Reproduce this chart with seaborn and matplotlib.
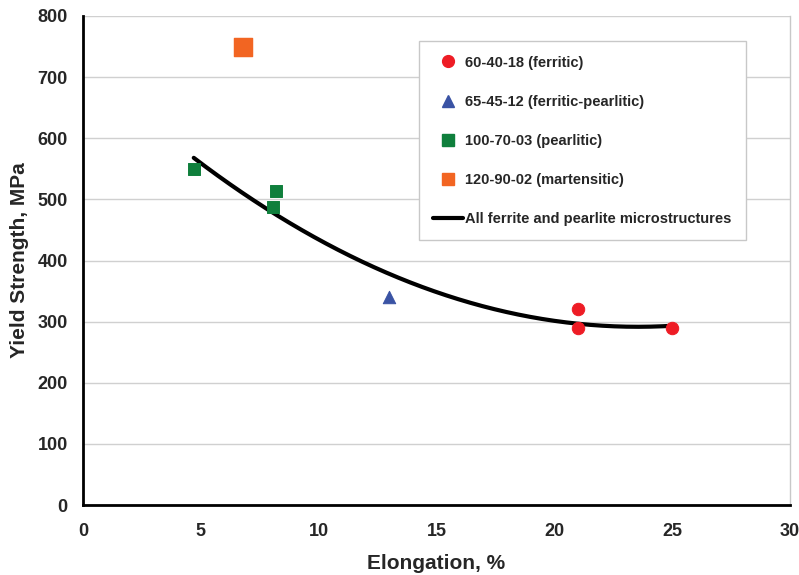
import numpy as np
import pandas as pd
import matplotlib
matplotlib.use("Agg")
import matplotlib.pyplot as plt
import seaborn as sns
from matplotlib.lines import Line2D

# Data
ferritic_x = [21, 21, 25]
ferritic_y = [320, 290, 290]
fp_x = [13]
fp_y = [340]
pearlitic_x = [4.7, 8.2, 8.05]
pearlitic_y = [550, 514, 488]
mart_x = [6.8]
mart_y = [750]
# trendline (2nd order polynomial) coefficients and range
trend_coef = [0.779, -36.67, 723.1]
trend_range = [4.7, 25]

labels = ["60-40-18 (ferritic)", "65-45-12 (ferritic-pearlitic)",
          "100-70-03 (pearlitic)", "120-90-02 (martensitic)",
          "All ferrite and pearlite microstructures"]
x_ticks = [0, 5, 10, 15, 20, 25, 30]
y_ticks = [0, 100, 200, 300, 400, 500, 600, 700, 800]

sns.set_style("white")
plt.rcParams['font.family'] = ['Liberation Sans', 'DejaVu Sans']
plt.rcParams['font.weight'] = 'bold'

fig = plt.figure(figsize=(7.99, 5.75), dpi=100)
ax = fig.add_axes([83/799, 70/575, 707/799, 489/575])

c_red = "#ee1c25"
c_blue = "#3a53a4"
c_green = "#0f7f3c"
c_orange = "#f26522"

tx = np.linspace(trend_range[0], trend_range[1], 200)
ty = np.polyval(trend_coef, tx)
trend_df = pd.DataFrame({"x": tx, "y": ty})
sns.lineplot(data=trend_df, x="x", y="y", ax=ax, color="black", lw=3, zorder=3)

sns.scatterplot(x=ferritic_x, y=ferritic_y, ax=ax, marker="o", s=80, color=c_red, edgecolor=c_red, zorder=4)
sns.scatterplot(x=fp_x, y=fp_y, ax=ax, marker="^", s=80, color=c_blue, edgecolor=c_blue, zorder=4)
sns.scatterplot(x=pearlitic_x, y=pearlitic_y, ax=ax, marker="s", s=75, color=c_green, edgecolor=c_green, zorder=4)
sns.scatterplot(x=mart_x, y=mart_y, ax=ax, marker="s", s=170, color=c_orange, edgecolor=c_orange, zorder=4)

ax.set_xlim(0, 30)
ax.set_ylim(0, 800)
ax.set_xticks(x_ticks)
ax.set_yticks(y_ticks)
ax.set_xticklabels([str(v) for v in x_ticks], fontsize=13, fontweight="bold")
ax.set_yticklabels([str(v) for v in y_ticks], fontsize=13, fontweight="bold")
ax.yaxis.grid(True, color="#d0d0d0", lw=1)
ax.xaxis.grid(False)
ax.set_axisbelow(True)

for s in ["left", "bottom"]:
    ax.spines[s].set_color("black")
    ax.spines[s].set_linewidth(2)
ax.spines["top"].set_visible(False)
ax.spines["right"].set_color("#c8c8c8")
ax.spines["right"].set_linewidth(1)
ax.tick_params(axis="both", direction="out", length=5, width=2, color="black", pad=4)
ax.tick_params(axis="x", pad=8)
ax.tick_params(axis="y", pad=6)

ax.set_xlabel("Elongation, %", fontsize=15, fontweight="bold", labelpad=10)
ax.set_ylabel("Yield Strength, MPa", fontsize=15, fontweight="bold", labelpad=6)

handles = [
    Line2D([], [], marker="o", ls="", color=c_red, markersize=8.5),
    Line2D([], [], marker="^", ls="", color=c_blue, markersize=8.5),
    Line2D([], [], marker="s", ls="", color=c_green, markersize=8),
    Line2D([], [], marker="s", ls="", color=c_orange, markersize=8),
    Line2D([], [], color="black", lw=3),
]
leg = ax.legend(handles, labels, loc="upper left", bbox_to_anchor=(0.475, 0.949),
                borderaxespad=0,
                frameon=True, fancybox=False, edgecolor="#c8c8c8", framealpha=1,
                prop={"size": 10.5, "weight": "bold"}, labelspacing=1.72,
                borderpad=1.0, handlelength=2.0, handletextpad=0.15)
leg.get_frame().set_linewidth(1)

fig.savefig("out.png", dpi=100)
